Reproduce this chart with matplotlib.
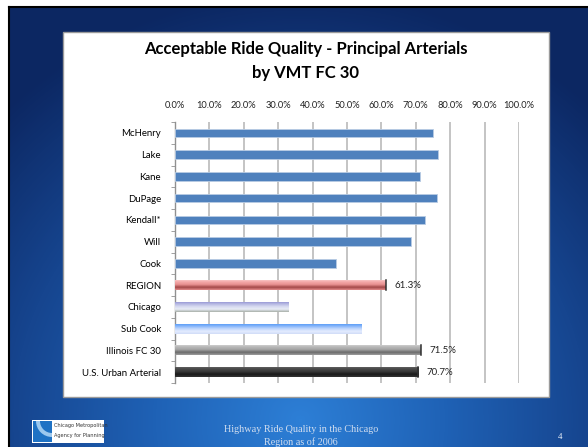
import numpy as np
import matplotlib
matplotlib.use("Agg")
import matplotlib.pyplot as plt
import matplotlib.patches as mpatches
from matplotlib.colors import LinearSegmentedColormap

# chart data (percent acceptable ride quality)
categories = ["McHenry", "Lake", "Kane", "DuPage", "Kendall*", "Will", "Cook",
              "REGION", "Chicago", "Sub Cook", "Illinois FC 30", "U.S. Urban Arterial"]
values = [75.1, 76.5, 71.3, 76.3, 72.8, 68.7, 46.8, 61.3, 33.1, 54.3, 71.5, 70.7]
labelled = {"REGION": "61.3%", "Illinois FC 30": "71.5%", "U.S. Urban Arterial": "70.7%"}
ticks = np.arange(0, 101, 10)
tick_labels = [f"{t:.1f}%" for t in ticks]

W, H = 588, 447
fig = plt.figure(figsize=(W / 100, H / 100), dpi=100)
plt.rcParams["font.family"] = ["Lato", "DejaVu Sans"]

# slide background
bg = fig.add_axes([0, 0, 1, 1])
bg.set_xlim(0, W)
bg.set_ylim(H, 0)
bg.axis("off")
yy, xx = np.mgrid[0:H, 0:W]
r = np.sqrt(((xx - 300) / 430.0) ** 2 + ((yy - 420) / 430.0) ** 2)
r = np.clip(r, 0, 1)
slide_cmap = LinearSegmentedColormap.from_list("slide", ["#2d7fd6", "#1f62b6", "#16458f", "#0c2762"])
bg.imshow(r, cmap=slide_cmap, extent=[0, W, H, 0], aspect="auto", zorder=0)
bg.add_patch(mpatches.Rectangle((0, 0), 8, H, color="white", zorder=1))
bg.add_patch(mpatches.Rectangle((0, 0), W, 6, color="white", zorder=1))
bg.plot([8.5, 8.5], [6.5, H], color="black", lw=1.5, zorder=2)
bg.plot([8.5, W], [6.5, 6.5], color="black", lw=1.5, zorder=2)

# white chart box
bg.add_patch(mpatches.Rectangle((63, 32), 486, 365, facecolor="white",
                                edgecolor="#9a9a9a", lw=1.0, zorder=3))
bg.text(306, 49, "Acceptable Ride Quality - Principal Arterials", ha="center", va="center",
        fontsize=12, fontweight="bold", color="black", zorder=4)
bg.text(306, 73, "by VMT FC 30", ha="center", va="center",
        fontsize=12, fontweight="bold", color="black", zorder=4)

# footer
bg.text(301, 429, "Highway Ride Quality in the Chicago", ha="center", va="center",
        fontsize=7.3, family="Liberation Serif", color="#d2def0", zorder=4)
bg.text(301, 442, "Region as of 2006", ha="center", va="center",
        fontsize=7.3, family="Liberation Serif", color="#d2def0", zorder=4)
bg.text(560, 437, "4", ha="center", va="center", fontsize=6.5,
        family="Liberation Serif", color="#e8eef8", zorder=4)
bg.add_patch(mpatches.Rectangle((32, 420), 72, 23, facecolor="white", zorder=4))
bg.add_patch(mpatches.Rectangle((33, 421), 19, 21, facecolor="#1f72c4", zorder=5))
bg.add_patch(mpatches.Wedge((52, 421), 16, 90, 180, facecolor="#9cc8ee", zorder=5))
bg.add_patch(mpatches.Wedge((52, 421), 12, 90, 180, facecolor="#1f72c4", zorder=5))
bg.text(54, 426, "Chicago Metropolitan", fontsize=3.6, color="#333333",
        family="Liberation Sans Narrow", va="center", zorder=6)
bg.text(54, 435, "Agency for Planning", fontsize=3.6, color="#333333",
        family="Liberation Sans Narrow", va="center", zorder=6)

# chart axes
ax = fig.add_axes([175 / W, 1 - 383 / H, 344 / W, 261 / H], zorder=5)
ax.patch.set_alpha(0)
y = np.arange(len(categories))

styles = {
    "REGION": ["#fbd4d4", "#f4a9a9", "#e89090", "#a24848", "#e38a8a"],
    "Chicago": ["#8c8cd0", "#b4b6e2", "#d6daf0", "#e8ecf6", "#a8b0a8"],
    "Sub Cook": ["#4d94f4", "#7fb2fa", "#bcd4fc", "#e4ecfe", "#d0dcf8"],
    "Illinois FC 30": ["#d8d8d8", "#b8b8b8", "#a4a4a4", "#6a6a6a", "#9c9c9c"],
    "U.S. Urban Arterial": ["#6a6a6a", "#4a4a4a", "#383838", "#1a1a1a", "#333333"],
}

for yi, cat, val in zip(y, categories, values):
    if cat in styles:
        h = 0.46
        bar = ax.barh(yi, val, height=h, color="none", edgecolor="none", zorder=3)[0]
        cm = LinearSegmentedColormap.from_list(cat, styles[cat])
        grad = np.linspace(0, 1, 64).reshape(-1, 1)
        im = ax.imshow(grad, cmap=cm, aspect="auto", zorder=3,
                       extent=[0, val, yi + h / 2, yi - h / 2], origin="upper")
        im.set_clip_path(bar)
        if cat in ("REGION", "Illinois FC 30", "U.S. Urban Arterial"):
            ax.plot([val, val], [yi - h / 2, yi + h / 2], color="#303030", lw=1.1, zorder=4)
    else:
        ax.barh(yi, val, height=0.38, color="#4f81bd", edgecolor="#b8cce4",
                lw=0.6, zorder=3)
    if cat in labelled:
        ax.text(val + 2.5, yi, labelled[cat], va="center", ha="left",
                fontsize=7, color="#222222", zorder=5)

ax.set_xlim(0, 100)
ax.set_ylim(len(categories) - 0.5, -0.5)
ax.set_yticks(y)
ax.set_yticklabels(categories, fontsize=6.9)
ax.set_yticks(np.arange(-0.5, len(categories), 1), minor=True)
ax.tick_params(axis="y", which="major", length=0, pad=10)
ax.tick_params(axis="y", which="minor", length=3, color="#909090", direction="out")
ax.xaxis.tick_top()
ax.set_xticks(ticks)
ax.set_xticklabels(tick_labels, fontsize=6.7)
ax.tick_params(axis="x", length=0, pad=9, colors="#222222")
ax.grid(True, axis="x", color="#b4b4b4", lw=1.1, zorder=1)
for side in ("top", "right", "bottom"):
    ax.spines[side].set_visible(False)
ax.spines["left"].set_color("#909090")
ax.spines["left"].set_linewidth(1.0)

fig.savefig("out.png", dpi=100)
